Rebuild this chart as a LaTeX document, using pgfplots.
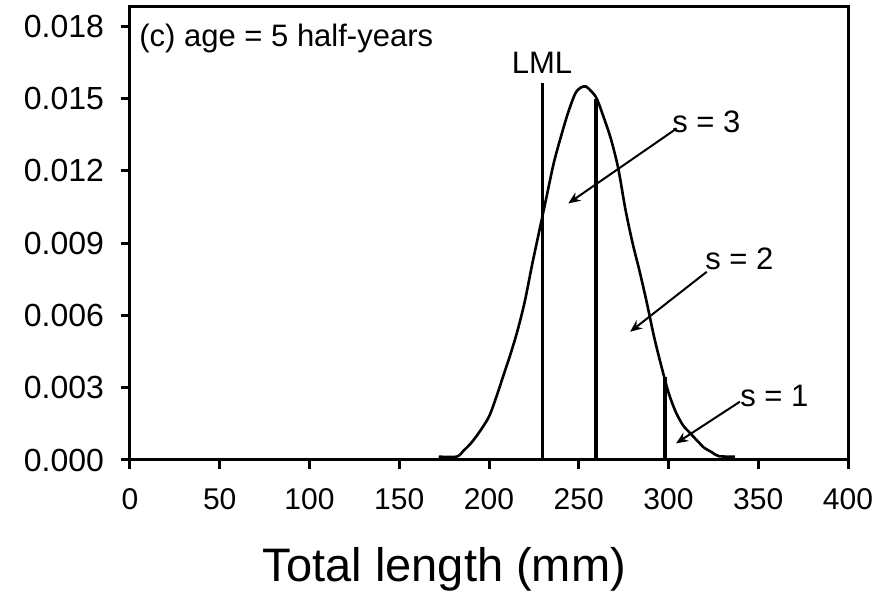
\documentclass[border=0pt]{standalone}
\usepackage{fontspec}
\setmainfont{Liberation Sans}
\usepackage{pgfplots}
\pgfplotsset{compat=1.18}
\usetikzlibrary{arrows.meta}
\begin{document}
\begin{tikzpicture}
\useasboundingbox (-65pt,-66pt) rectangle (378.5pt,230pt);
\begin{axis}[
  at={(0,0)}, anchor=south west,
  scale only axis, width=359pt, height=226.5pt,
  xmin=0, xmax=400, ymin=0, ymax=0.0188,
  xtick={0,50,100,150,200,250,300,350,400},
  ytick={0,0.003,0.006,0.009,0.012,0.015,0.018},
  tick align=outside, xtick pos=bottom, ytick pos=left,
  major tick length=4.5pt,
  axis line style={line width=1.5pt},
  every tick/.style={line width=1.5pt, black},
  scaled y ticks=false,
  /pgf/number format/assume math mode=true,
  yticklabel style={/pgf/number format/.cd, fixed, fixed zerofill, precision=3, /tikz/.cd, font=\fontsize{16}{19}\selectfont, xshift=-5pt},
  xticklabel style={font=\fontsize{15}{18}\selectfont, yshift=-6pt},
  clip=false,
]
\addplot[line width=1.3pt, smooth, tension=0.5] coordinates {
(172,0.00014) (182,0.00014) (186,0.0004) (190,0.0007) (195,0.0012)
(200,0.0018) (204,0.0026) (208,0.0035) (212,0.0044) (216,0.0054)
(220,0.0066) (224,0.0081) (228,0.0095) (232,0.0109) (236,0.0123)
(240,0.0134) (244,0.0144) (248,0.0152) (251,0.01545) (254,0.0155)
(257,0.0153) (260,0.0150) (264,0.0142) (268,0.0133) (272,0.0121)
(276,0.0104) (280,0.0090) (284,0.0078) (288,0.0065) (292,0.0051)
(296,0.0039) (300,0.0028) (304,0.0020) (308,0.00145) (312,0.00112)
(316,0.0008) (320,0.0005) (324,0.00033) (328,0.00016) (337,0.00014)
};
\addplot[line width=1.6pt] coordinates {(230,0) (230,0.01566)};
\addplot[line width=1.6pt] coordinates {(259.6,0) (259.6,0.01500)};
\addplot[line width=1.6pt] coordinates {(298,0) (298,0.00345)};
\addplot[line width=1pt, -{Stealth[length=6pt,width=5pt]}] coordinates {(304.6,0.01376) (244.2,0.01065)};
\addplot[line width=1pt, -{Stealth[length=6pt,width=5pt]}] coordinates {(321.3,0.00781) (278.6,0.00532)};
\addplot[line width=1pt, -{Stealth[length=6pt,width=5pt]}] coordinates {(339.8,0.00242) (304.2,0.00069)};
\node[anchor=base west, inner sep=0, font=\fontsize{15.5}{18}\selectfont] at (axis cs:5,0.01718) {(c) age = 5 half-years};
\node[anchor=base, inner sep=0, font=\fontsize{15.5}{18}\selectfont] at (axis cs:229.5,0.01606) {LML};
\node[anchor=base west, inner sep=0, font=\fontsize{15.5}{18}\selectfont] at (axis cs:301.9,0.01361) {s = 3};
\node[anchor=base west, inner sep=0, font=\fontsize{15.5}{18}\selectfont] at (axis cs:320.3,0.00792) {s = 2};
\node[anchor=base west, inner sep=0, font=\fontsize{15.5}{18}\selectfont] at (axis cs:339.8,0.00221) {s = 1};
\node[anchor=base, inner sep=0, yshift=-61pt, font=\fontsize{23.5}{28}\selectfont] at (axis cs:175.2,0) {Total length (mm)};
\end{axis}
\end{tikzpicture}
\end{document}
